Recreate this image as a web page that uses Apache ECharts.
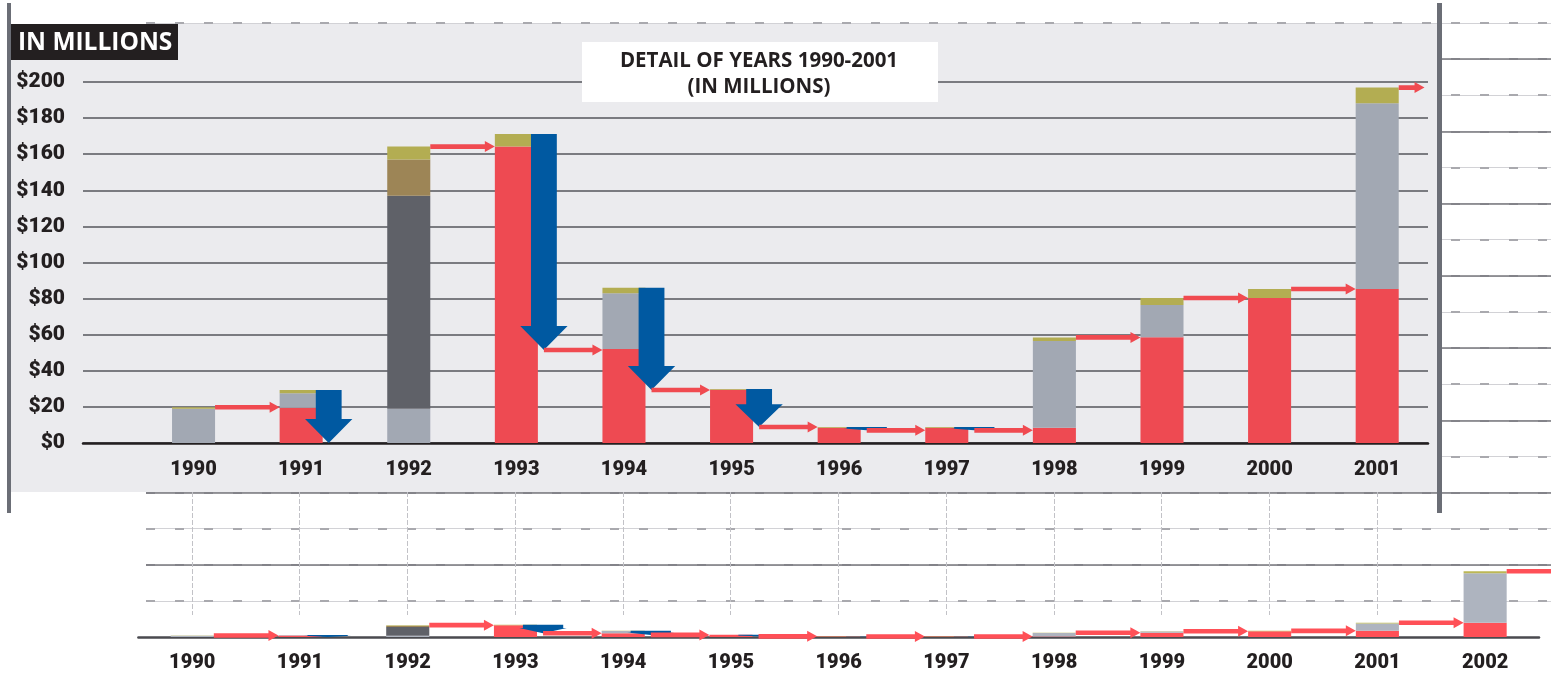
<!DOCTYPE html>
<html><head><meta charset="utf-8">
<script src="https://cdn.jsdelivr.net/npm/echarts@6/dist/echarts.min.js"></script>
<style>html,body{margin:0;padding:0;background:#fff}#c{width:1551px;height:677px}</style>
</head><body><div id="c"></div>
<script>
// ---- data (millions of dollars) ----
const allYears   = ['1990','1991','1992','1993','1994','1995','1996','1997','1998','1999','2000','2001','2002'];
const detailYears = allYears.slice(0, 12);
const carriedOver  = [0,   19.5, 0,   164.2, 52.1, 29.5, 8.5, 8.5, 8.5, 58.6, 80.3, 85.3, 197];
const otherSources = [19,  8,    19,  0,     30.9, 0,    0,   0,   48,  17.9, 0,    102.9, 686];
const mainSource   = [0,   0,    118, 0,     0,    0,    0,   0,   0,   0,    0,    0,     0];
const secondSource = [0,   0,    20,  0,     0,    0,    0,   0,   0,   0,    0,    0,     0];
const interest     = [0.8, 1.9,  7.2, 7,     3,    0.4,  0.3, 0.3, 2,   3.8,  5,    8.7,   28];
const spent        = [0,   29.4, 0,   119.7, 56.6, 21,   1.8, 1.8, 0,   0,    0,    0,     0];
const detailTicks  = [0, 20, 40, 60, 80, 100, 120, 140, 160, 180, 200];
const fullTickStep = 500;
const fullMax      = 8500;

const totals = allYears.map((_, i) => carriedOver[i] + otherSources[i] + mainSource[i] + secondSource[i] + interest[i]);

const chart = echarts.init(document.getElementById('c'));
const LABEL_FONT = 'Roboto, "Liberation Sans", sans-serif';

function blueArrow(params, api) {
  const i = api.value(0), top = api.value(1), bot = api.value(2);
  if (!(top > bot)) return null;
  const c = api.coord([i, top]), cb = api.coord([i, bot]);
  const bandW = api.size([1, 0])[0];
  const right = c[0] + bandW * 0.2;
  const cx = right + bandW * 0.056;
  const headW = bandW * 0.44;
  const len = cb[1] - c[1];
  const headH = Math.min(24, len * 0.6);
  const shaftW = len < 30 ? headW * 0.85 : bandW * 0.24;
  const hy = cb[1] - headH;
  return {
    type: 'polygon',
    shape: { points: [[cx - shaftW/2, c[1]], [cx + shaftW/2, c[1]], [cx + shaftW/2, hy], [cx + headW/2, hy], [cx, cb[1]], [cx - headW/2, hy], [cx - shaftW/2, hy]] },
    style: { fill: api.visual('color') }
  };
}
function redArrowFactory(lastExt) {
  return function (params, api) {
    const i = api.value(0), lvl = api.value(1), fromTip = api.value(2), isLast = api.value(3);
    if (!(lvl > 0)) return null;
    const c = api.coord([i, lvl]);
    const bandW = api.size([1, 0])[0];
    const right = c[0] + bandW * 0.2;
    const x0 = fromTip ? right + bandW * 0.056 : right;
    const x1 = isLast ? right + bandW * lastExt : c[0] + bandW - bandW * 0.2;
    const y = c[1], t = 2.3, h = 5.5, hl = 10;
    return {
      type: 'polygon',
      shape: { points: [[x0, y - t], [x1 - hl, y - t], [x1 - hl, y - h], [x1, y], [x1 - hl, y + h], [x1 - hl, y + t], [x0, y + t]] },
      style: { fill: api.visual('color') }
    };
  };
}
function blueData(n) {
  const d = [];
  for (let i = 0; i < n; i++) if (spent[i] > 0) d.push([i, totals[i], totals[i] - spent[i]]);
  return d;
}
function redData(n) {
  const d = [];
  for (let i = 0; i < n; i++) d.push([i, totals[i] - spent[i], spent[i] > 0 ? 1 : 0, i === n - 1 ? 1 : 0]);
  return d;
}
function stackSeries(n, xi, yi, stack, colors, z) {
  const arrs = [carriedOver, otherSources, mainSource, secondSource, interest];
  return arrs.map((a, k) => ({
    type: 'bar', stack: stack, xAxisIndex: xi, yAxisIndex: yi, barWidth: '40%',
    data: a.slice(0, n), itemStyle: { color: colors[k] }, z: z, silent: true
  }));
}
const topColors = ['#ee4a52', '#a2a8b3', '#5f6168', '#9d8556', '#b3ad52'];
const botColors = ['#ff5057', '#aeb4bf', '#5f6168', '#9d8556', '#bcb755'];
const hidden = { axisLine: { show: false }, axisTick: { show: false }, axisLabel: { show: false } };

const option = {
  animation: false,
  backgroundColor: '#ffffff',
  grid: [
    { left: 146, right: 0, top: 23, bottom: 40 },          // 0 full-scale gridlines
    { left: 138.4, right: 12, top: 23, bottom: 40 },       // 1 full-scale bars
    { left: 192, right: 174, top: 492, bottom: 62 },       // 2 vertical guides
    { left: 83, right: 123, top: 82, bottom: 234 },        // 3 detail gridlines
    { left: 139.75, right: 120, top: 82, bottom: 234 }     // 4 detail bars
  ],
  xAxis: [
    { gridIndex: 0, type: 'value', show: false, min: 0, max: 1 },
    { gridIndex: 1, type: 'category', data: allYears, z: 2,
      axisLine: { lineStyle: { color: '#4a4a4f', width: 2.5 } }, axisTick: { show: false },
      axisLabel: { margin: 16, fontFamily: LABEL_FONT, fontWeight: 900, fontSize: 20, color: '#231f20' } },
    { gridIndex: 2, type: 'category', data: detailYears, boundaryGap: false, ...hidden,
      splitLine: { show: true, lineStyle: { color: '#c2c2c7', type: [5, 2], width: 1 } } },
    { gridIndex: 3, type: 'value', min: 0, max: 1, z: 3,
      axisLine: { show: true, lineStyle: { color: '#231f20', width: 2.5 } },
      axisTick: { show: false }, axisLabel: { show: false }, splitLine: { show: false } },
    { gridIndex: 4, type: 'category', data: detailYears, z: 3,
      axisLine: { show: false }, axisTick: { show: false },
      axisLabel: { margin: 17, fontFamily: LABEL_FONT, fontWeight: 900, fontSize: 20, color: '#231f20' } }
  ],
  yAxis: [
    { gridIndex: 0, type: 'value', min: 0, max: fullMax, interval: fullTickStep, z: 0, ...hidden,
      splitLine: { showMinLine: false, lineStyle: { color: '#d2d2d6', width: 1 } } },
    { gridIndex: 0, type: 'value', min: 0, max: fullMax, interval: fullTickStep, z: 0, ...hidden,
      splitLine: { showMinLine: false, lineStyle: { color: '#a9a9ae', type: [9, 20], width: 2 } } },
    { gridIndex: 0, type: 'value', min: 0, max: fullMax, interval: fullTickStep * 2, z: 0, ...hidden,
      splitLine: { showMinLine: false, showMaxLine: false, lineStyle: { color: '#77777c', width: 1.5 } } },
    { gridIndex: 1, type: 'value', min: 0, max: fullMax, show: false },
    { gridIndex: 2, type: 'value', show: false },
    { gridIndex: 3, type: 'value', min: detailTicks[0], max: detailTicks[detailTicks.length - 1],
      interval: detailTicks[1] - detailTicks[0], z: 3,
      axisLine: { show: false }, axisTick: { show: false },
      axisLabel: { margin: 18, padding: [5, 0, 0, 0], formatter: v => '$' + v, fontFamily: LABEL_FONT, fontWeight: 900, fontSize: 21, color: '#231f20' },
      splitLine: { lineStyle: { color: '#55565b', width: 1.5 } } },
    { gridIndex: 4, type: 'value', min: detailTicks[0], max: detailTicks[detailTicks.length - 1], show: false }
  ],
  graphic: [
    { type: 'rect', z: 1, shape: { x: 11, y: 24, width: 1427, height: 468 }, style: { fill: '#ebebee' }, silent: true },
    { type: 'rect', z: 10, shape: { x: 7, y: 3, width: 4, height: 510 }, style: { fill: '#6b6e76' }, silent: true },
    { type: 'rect', z: 10, shape: { x: 1437, y: 3, width: 5, height: 510 }, style: { fill: '#6b6e76' }, silent: true },
    { type: 'rect', z: 10, shape: { x: 11, y: 24, width: 167, height: 36 }, style: { fill: '#231f20' }, silent: true },
    { type: 'text', z: 11, x: 18, y: 43,
      style: { text: 'IN MILLIONS', fill: '#ffffff', verticalAlign: 'middle', font: 'bold 24.5px "Open Sans", sans-serif' } },
    { type: 'rect', z: 10, shape: { x: 582, y: 42, width: 356, height: 60 }, style: { fill: '#ffffff' }, silent: true },
    { type: 'text', z: 11, x: 759, y: 74,
      style: { text: 'DETAIL OF YEARS 1990-2001\n(IN MILLIONS)', fill: '#231f20', align: 'center', verticalAlign: 'middle',
               lineHeight: 26, font: 'bold 20.5px "Open Sans", sans-serif' } }
  ],
  series: [
    ...stackSeries(13, 1, 3, 'full', botColors, 2),
    { type: 'custom', xAxisIndex: 1, yAxisIndex: 3, renderItem: blueArrow, data: blueData(13), itemStyle: { color: '#0059a1' }, z: 3, silent: true },
    { type: 'custom', xAxisIndex: 1, yAxisIndex: 3, renderItem: redArrowFactory(0.7), data: redData(13), itemStyle: { color: '#ff5057' }, z: 3, silent: true },
    ...stackSeries(12, 4, 6, 'detail', topColors, 4),
    { type: 'custom', xAxisIndex: 4, yAxisIndex: 6, renderItem: blueArrow, data: blueData(12), itemStyle: { color: '#0059a1' }, z: 5, silent: true },
    { type: 'custom', xAxisIndex: 4, yAxisIndex: 6, renderItem: redArrowFactory(0.24), data: redData(12), itemStyle: { color: '#f04a50' }, z: 5, silent: true }
  ]
};
chart.setOption(option);
</script>
</body></html>
